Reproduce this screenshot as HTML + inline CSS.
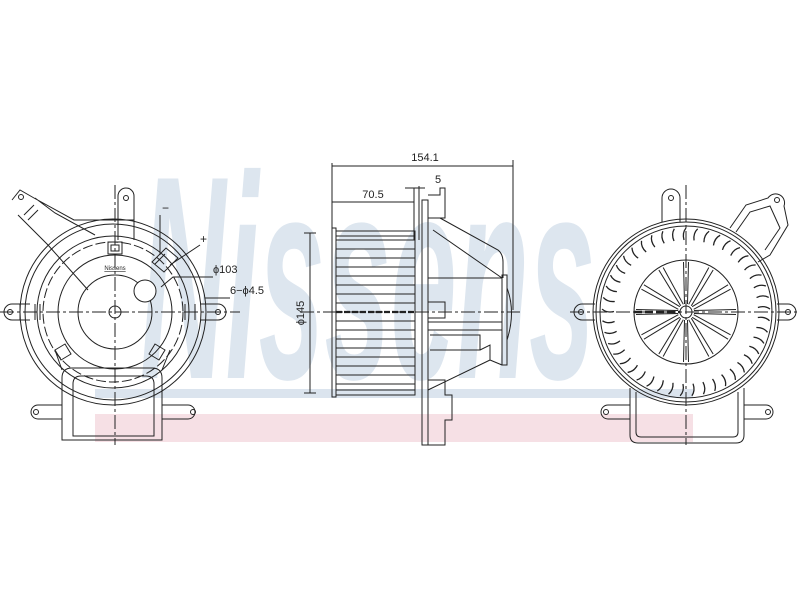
<!DOCTYPE html>
<html><head><meta charset="utf-8"><style>html,body{margin:0;padding:0;background:#fff}svg{display:block}</style></head>
<body>
<svg width="800" height="600" viewBox="0 0 800 600" xmlns="http://www.w3.org/2000/svg" font-family="Liberation Sans, sans-serif">
<defs>
<path id="bl" d="M0,-84 q-4,5 -2,12" fill="none" stroke="#222" stroke-width="1.3"/>
<g id="sp"><line x1="-1.5" y1="-8" x2="-2.5" y2="-50" stroke="#222" stroke-width="1"/><line x1="1.5" y1="-8" x2="2.5" y2="-50" stroke="#222" stroke-width="1"/></g>
</defs>
<!-- watermark -->
<rect x="95" y="389" width="598" height="9" fill="#dbe4ee"/>
<rect x="95" y="414" width="598" height="28" fill="#f6e0e5"/>
<text x="140" y="378" font-size="290" font-weight="bold" font-style="italic" fill="#dde6ef" textLength="455" lengthAdjust="spacingAndGlyphs">Nissens</text>

<g fill="none" stroke="#222" stroke-width="1">
<!-- LEFT VIEW -->
<circle cx="113" cy="312" r="93"/>
<circle cx="113" cy="312" r="88"/>
<circle cx="113" cy="312" r="76"/>
<circle cx="113" cy="312" r="70" stroke-dasharray="10,3"/>
<circle cx="115" cy="312" r="57"/>
<circle cx="115" cy="312" r="37"/>
<circle cx="115" cy="312" r="6"/>
<circle cx="145" cy="291" r="11" fill="#fff"/>
<path d="M30,304 H12 a8,8 0 0 0 0,16 H30"/><circle cx="10" cy="312" r="2.5"/>
<path d="M20,304 V320 M35,304 V320 M40,304 V320"/>
<path d="M200,304 H218 a8,8 0 0 1 0,16 H200"/><circle cx="218" cy="312" r="2.5"/>
<path d="M185,304 V320 M195,304 V320"/>
<path d="M118,240 V196 a8,8 0 0 1 16,0 V240"/><circle cx="126" cy="198" r="2.5"/>
<path d="M108,242 h14 v12 h-14 z M111,245 h8 v6 h-8z"/>
<path d="M12,200 l8,-10 l14,8 l40,22 l60,0 M18,215 l30,30 l40,45 M35,198 l20,15 l40,22"/>
<circle cx="21" cy="197" r="2.5"/>
<path d="M24,215 l10,-10 M28,220 l10,-10"/>
<path d="M152,262 l14,-14 l12,10 l-14,14 z M155,264 l10,-10"/>
<path d="M55,350 l10,-6 l6,10 l-10,6 z M165,350 l-10,-6 l-6,10 l10,6 z"/>
<path d="M62,440 V378 q0,-10 10,-10 H152 q10,0 10,10 V440 Z"/>
<path d="M73,436 V384 q0,-8 8,-8 H146 q8,0 8,8 V436 Z"/>
<path d="M55,350 L62,370 M170,350 L162,370"/>
<path d="M62,405 H38 a7,7 0 0 0 0,14 H62"/><circle cx="36" cy="412" r="2.5"/>
<path d="M162,405 H188 a7,7 0 0 1 0,14 H162"/><circle cx="193" cy="412" r="2.5"/>
<line x1="0" y1="312" x2="240" y2="312" stroke-dasharray="14,3,3,3"/>
<line x1="115" y1="185" x2="115" y2="445" stroke-dasharray="14,3,3,3"/>
<path d="M160,215 l0,40 M200,245 l-30,20 M213,277 h-40 l-12,10 M230,298 h-25"/>

<!-- MIDDLE VIEW -->
<path d="M332,163 V230 M513,160 V310"/>
<path d="M332,166 H513 M332,202 H414"/>
<path d="M414,188 V240 M419,186 V240 M405,188 H425"/>
<path d="M310,233 V393 M304,233 H316 M304,393 H316"/>
<rect x="332" y="228" width="4" height="169"/>
<rect x="336" y="231" width="79" height="164"/>
<path d="M336,240 H415 M336,249 H415 M336,258 H415 M336,267 H415 M336,276 H415 M336,285 H415 M336,294 H415 M336,303 H415 M336,321 H415 M336,330 H415 M336,339 H415 M336,348 H415 M336,357 H415 M336,366 H415 M336,375 H415 M336,384 H415"/>
<path d="M336,236 H415 M336,390 H415"/>
<rect x="422" y="200" width="6" height="245"/>
<path d="M428,195 H440 V188 H445 V218 H428"/>
<path d="M433,230 L502,278 M440,218 L498,250 Q503,254 503,262 V278"/>
<rect x="502" y="275" width="5" height="90"/>
<path d="M507,288 Q516,312 507,340"/>
<path d="M428,278 H502 M428,322 H502 M428,330 H502"/>
<rect x="428" y="302" width="17" height="16"/>
<path d="M430,335 H480 V350 H430 M480,350 L490,345 V360 L428,390 M490,360 L502,365"/>
<path d="M428,380 H445 V395 H452 V420 H445 V445 H428"/>
<line x1="300" y1="312" x2="520" y2="312" stroke-dasharray="14,3,3,3"/>
<line x1="336" y1="312" x2="415" y2="312" stroke-width="2.2" stroke-dasharray="6,2"/>

<!-- RIGHT VIEW -->
<circle cx="686" cy="312" r="93"/>
<circle cx="686" cy="312" r="90"/>
<circle cx="686" cy="312" r="86"/>
<circle cx="686" cy="312" r="52"/>
<circle cx="686" cy="312" r="6"/>
<g transform="translate(686,312)">
<use href="#sp"/><use href="#sp" transform="rotate(30)"/><use href="#sp" transform="rotate(60)"/><use href="#sp" transform="rotate(90)"/><use href="#sp" transform="rotate(120)"/><use href="#sp" transform="rotate(150)"/><use href="#sp" transform="rotate(180)"/><use href="#sp" transform="rotate(210)"/><use href="#sp" transform="rotate(240)"/><use href="#sp" transform="rotate(270)"/><use href="#sp" transform="rotate(300)"/><use href="#sp" transform="rotate(330)"/>
<use href="#bl"/><use href="#bl" transform="rotate(8)"/><use href="#bl" transform="rotate(16)"/><use href="#bl" transform="rotate(24)"/><use href="#bl" transform="rotate(32)"/><use href="#bl" transform="rotate(40)"/><use href="#bl" transform="rotate(48)"/><use href="#bl" transform="rotate(56)"/><use href="#bl" transform="rotate(64)"/><use href="#bl" transform="rotate(72)"/><use href="#bl" transform="rotate(80)"/><use href="#bl" transform="rotate(88)"/><use href="#bl" transform="rotate(96)"/><use href="#bl" transform="rotate(104)"/><use href="#bl" transform="rotate(112)"/><use href="#bl" transform="rotate(120)"/><use href="#bl" transform="rotate(128)"/><use href="#bl" transform="rotate(136)"/><use href="#bl" transform="rotate(144)"/><use href="#bl" transform="rotate(152)"/><use href="#bl" transform="rotate(160)"/><use href="#bl" transform="rotate(168)"/><use href="#bl" transform="rotate(176)"/><use href="#bl" transform="rotate(184)"/><use href="#bl" transform="rotate(192)"/><use href="#bl" transform="rotate(200)"/><use href="#bl" transform="rotate(208)"/><use href="#bl" transform="rotate(216)"/><use href="#bl" transform="rotate(224)"/><use href="#bl" transform="rotate(232)"/><use href="#bl" transform="rotate(240)"/><use href="#bl" transform="rotate(248)"/><use href="#bl" transform="rotate(256)"/><use href="#bl" transform="rotate(264)"/><use href="#bl" transform="rotate(272)"/><use href="#bl" transform="rotate(280)"/><use href="#bl" transform="rotate(288)"/><use href="#bl" transform="rotate(296)"/><use href="#bl" transform="rotate(304)"/><use href="#bl" transform="rotate(312)"/><use href="#bl" transform="rotate(320)"/><use href="#bl" transform="rotate(328)"/><use href="#bl" transform="rotate(336)"/><use href="#bl" transform="rotate(344)"/><use href="#bl" transform="rotate(352)"/>
</g>
<path d="M662,222 V198 a9,9 0 0 1 18,0 V222"/><circle cx="671" cy="198" r="2.5"/>
<path d="M730,228 L746,205 L768,198 a9,9 0 0 1 16,8 L788,225 L770,255 L758,262"/><circle cx="777" cy="200" r="2.5"/>
<path d="M736,232 L750,212 L770,206 L780,228 L765,250"/>
<path d="M595,304 H582 a8,8 0 0 0 0,16 H595"/><circle cx="581" cy="312" r="2.5"/>
<path d="M777,304 H788 a8,8 0 0 1 0,16 H777"/><circle cx="788" cy="312" r="2.5"/>
<path d="M630,388 V435 q0,8 8,8 H736 q8,0 8,-8 V388"/>
<path d="M636,392 V432 q0,5 5,5 H733 q5,0 5,-5 V392"/>
<path d="M630,405 H608 a7,7 0 0 0 0,14 H630"/><circle cx="606" cy="412" r="2.5"/>
<path d="M744,405 H766 a7,7 0 0 1 0,14 H744"/><circle cx="768" cy="412" r="2.5"/>
<line x1="570" y1="312" x2="800" y2="312" stroke-dasharray="14,3,3,3"/>
<line x1="686" y1="185" x2="686" y2="445" stroke-dasharray="14,3,3,3"/>
<line x1="634" y1="312" x2="680" y2="312" stroke-width="2.5" stroke-dasharray="8,3"/>
</g>

<g fill="#222" font-size="11">
<text x="425" y="161" text-anchor="middle">154.1</text>
<text x="373" y="198" text-anchor="middle">70.5</text>
<text x="438" y="183" text-anchor="middle">5</text>
<text transform="translate(304,313) rotate(-90)" text-anchor="middle">ϕ145</text>
<text x="162" y="212" font-size="12">−</text>
<text x="200" y="243" font-size="12">+</text>
<text x="213" y="273">ϕ103</text>
<text x="230" y="294">6−ϕ4.5</text>
<text x="115" y="270" font-size="6" text-anchor="middle" text-decoration="underline">Nissens</text>
</g>
</svg>
</body></html>
